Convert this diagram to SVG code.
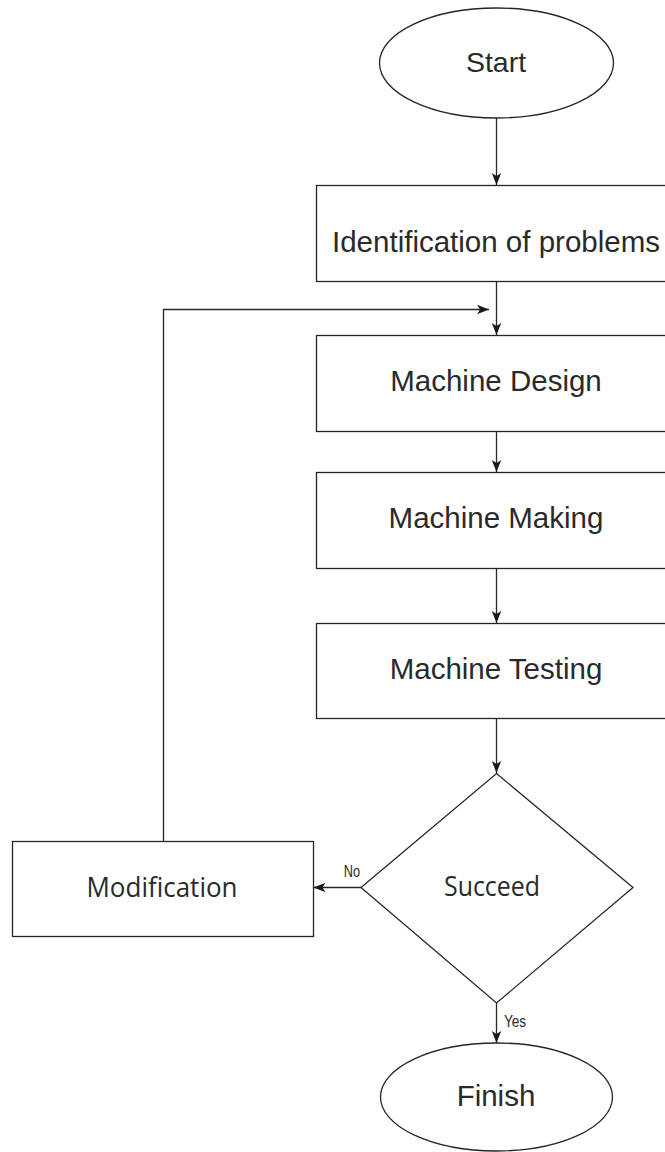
<svg xmlns="http://www.w3.org/2000/svg" width="665" height="1152" viewBox="0 0 665 1152">
<style>
.shape{fill:#fff;stroke:#262626;stroke-width:1.3}
.edge{fill:none;stroke:#262626;stroke-width:1.3}
.t{font-family:"Liberation Sans",Arial,sans-serif;fill:#2a2a2a;text-anchor:middle;font-size:29.5px}
.s{font-family:"Open Sans","Noto Sans",sans-serif;fill:#2a2a2a;text-anchor:middle;font-size:27px}
.lbl{font-family:"Liberation Sans",Arial,sans-serif;fill:#2a2a2a;font-size:16px}
</style>
<defs>
<marker id="arr" markerUnits="userSpaceOnUse" markerWidth="13" markerHeight="11" viewBox="0 0 13 11" refX="12" refY="5.5" orient="auto">
<path d="M0,0.8 L12,5.5 L0,10.2 L3,5.5 Z" fill="#1a1a1a"/>
</marker>
</defs>
<g id="connectors">
<line class="edge" x1="496.5" y1="118" x2="496.5" y2="185" marker-end="url(#arr)"/>
<line class="edge" x1="496.5" y1="282" x2="496.5" y2="335" marker-end="url(#arr)"/>
<polyline class="edge" points="163.5,841 163.5,309.5 489,309.5" marker-end="url(#arr)"/>
<line class="edge" x1="496.5" y1="432" x2="496.5" y2="472" marker-end="url(#arr)"/>
<line class="edge" x1="496.5" y1="569" x2="496.5" y2="623" marker-end="url(#arr)"/>
<line class="edge" x1="496.5" y1="719" x2="496.5" y2="773" marker-end="url(#arr)"/>
<line class="edge" x1="361" y1="887.5" x2="313.5" y2="887.5" marker-end="url(#arr)"/>
<line class="edge" x1="496.5" y1="1003" x2="496.5" y2="1043" marker-end="url(#arr)"/>
<text class="lbl" transform="translate(352,877) scale(0.8,1)" text-anchor="middle">No</text>
<text class="lbl" transform="translate(504,1027) scale(0.85,1)">Yes</text>
</g>
<g id="start">
<ellipse class="shape" cx="496.5" cy="63" rx="117" ry="55"/>
<text class="t" x="496" y="72" style="font-size:28.5px">Start</text>
</g>
<g id="identification">
<rect class="shape" x="316.5" y="185.5" width="360" height="96"/>
<text class="t" x="496" y="252">Identification of problems</text>
</g>
<g id="design">
<rect class="shape" x="316.5" y="335.5" width="360" height="96"/>
<text class="t" x="496" y="391">Machine Design</text>
</g>
<g id="making">
<rect class="shape" x="316.5" y="472.5" width="360" height="96"/>
<text class="t" x="496" y="528">Machine Making</text>
</g>
<g id="testing">
<rect class="shape" x="316.5" y="623.5" width="360" height="95"/>
<text class="t" x="496" y="679">Machine Testing</text>
</g>
<g id="succeed">
<polygon class="shape" points="496.5,773.5 633,887.5 496.5,1003 361,887.5"/>
<text class="s" x="492" y="896" textLength="96" lengthAdjust="spacingAndGlyphs">Succeed</text>
</g>
<g id="modification">
<rect class="shape" x="12.5" y="841.5" width="301" height="95"/>
<text class="s" x="162" y="897" textLength="151" lengthAdjust="spacingAndGlyphs">Modification</text>
</g>
<g id="finish">
<ellipse class="shape" cx="496.5" cy="1097" rx="116" ry="54"/>
<text class="t" x="496" y="1106">Finish</text>
</g>
</svg>
